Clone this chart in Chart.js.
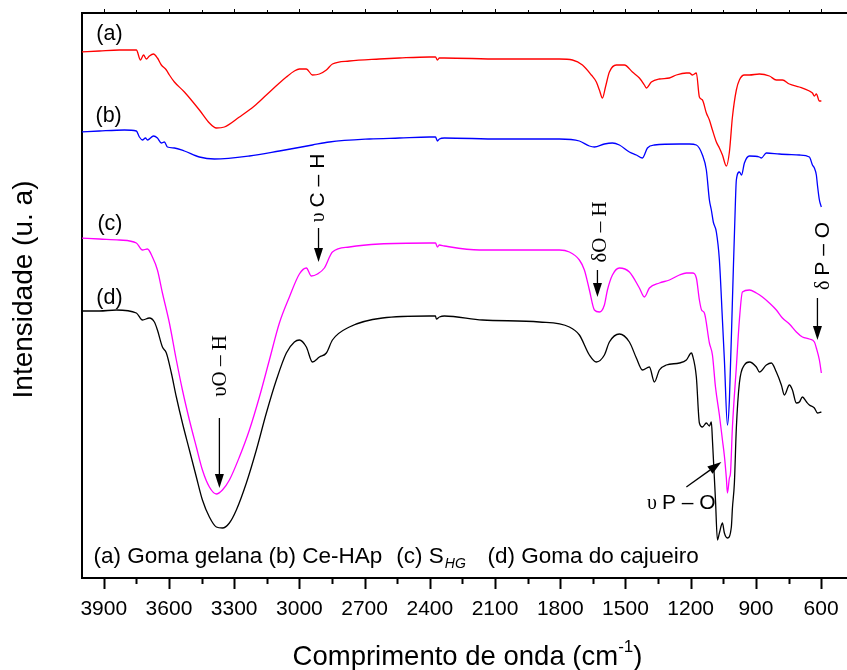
<!DOCTYPE html>
<html><head><meta charset="utf-8">
<script src="https://cdn.jsdelivr.net/npm/chart.js@4/dist/chart.umd.min.js"></script>
<style>html,body{margin:0;padding:0;background:#fff;}#wrap{width:847px;height:670px;}</style>
</head><body><div id="wrap"><canvas id="c" width="847" height="670"></canvas></div>
<script>
// ---- DATA: [wavenumber (cm-1), intensity (a.u.)] ----
const spectrumA = [[4003,526],[3920,527],[3828,528],[3750,528],[3731,518],[3717,523],[3704,519],[3690,522],[3671,524],[3653,520],[3635,513],[3612,508],[3598,503],[3575,496],[3529,486],[3460,468],[3414,455],[3382,450],[3345,451],[3276,461],[3207,472],[3152,483],[3092,495],[3060,501],[3023,507],[3000,509],[2968,509],[2940,503],[2908,504],[2876,508],[2848,514],[2770,517],[2632,519],[2540,520],[2402,521],[2374,521],[2365,518],[2356,520],[2333,520],[2080,519],[1804,519],[1744,518],[1698,513],[1657,503],[1634,496],[1620,488],[1606,480],[1592,491],[1574,506],[1542,513],[1505,513],[1468,506],[1436,500],[1413,493],[1404,490],[1381,496],[1344,499],[1298,500],[1266,503],[1220,505],[1206,505],[1192,503],[1174,505],[1160,481],[1146,478],[1128,465],[1114,458],[1100,448],[1082,436],[1068,430],[1054,423],[1036,412],[1022,426],[1008,461],[990,488],[976,498],[953,503],[930,503],[884,504],[838,502],[806,498],[778,498],[746,494],[700,491],[654,487],[640,485],[631,482],[622,484],[608,477],[599,477]];
const spectrumB = [[4003,446],[3920,447],[3805,448],[3750,447],[3736,441],[3722,438],[3708,440],[3699,438],[3671,442],[3653,440],[3635,435],[3621,436],[3607,431],[3575,430],[3529,427],[3460,421],[3391,419],[3230,422],[3092,427],[2940,433],[2862,436],[2678,439],[2540,440],[2402,441],[2374,441],[2365,437],[2356,439],[2333,440],[2080,439],[1804,439],[1712,437],[1666,432],[1643,431],[1597,434],[1560,435],[1528,433],[1482,426],[1450,423],[1422,420],[1399,430],[1367,433],[1252,434],[1206,434],[1174,433],[1146,423],[1128,408],[1114,378],[1105,368],[1096,356],[1082,346],[1068,318],[1054,258],[1045,218],[1031,153],[1022,178],[1008,278],[994,378],[990,398],[976,406],[966,403],[953,415],[930,422],[884,421],[875,420],[852,425],[792,424],[700,423],[654,421],[640,413],[631,410],[622,403],[617,393],[608,378],[599,371]];
const spectrumC = [[4003,340],[3920,339],[3828,338],[3750,335],[3722,328],[3699,329],[3676,321],[3653,308],[3630,285],[3598,255],[3566,218],[3538,188],[3506,158],[3474,131],[3446,108],[3414,91],[3382,84],[3354,88],[3322,98],[3276,121],[3230,148],[3184,181],[3138,218],[3092,255],[3046,281],[3000,304],[2968,310],[2945,302],[2917,304],[2885,310],[2848,326],[2770,331],[2632,334],[2402,335],[2374,335],[2365,331],[2356,333],[2333,332],[2172,328],[1804,328],[1758,326],[1712,318],[1689,308],[1666,288],[1643,268],[1620,266],[1597,273],[1583,288],[1560,303],[1528,310],[1482,306],[1436,290],[1413,281],[1390,290],[1344,295],[1298,298],[1252,303],[1220,305],[1192,305],[1174,300],[1160,278],[1150,268],[1137,265],[1114,235],[1100,223],[1086,191],[1068,163],[1054,138],[1045,122],[1036,100],[1031,85],[1022,100],[1017,105],[1008,151],[990,211],[976,258],[962,286],[930,288],[898,285],[870,281],[838,275],[806,268],[778,260],[746,254],[714,246],[686,241],[654,239],[631,236],[622,230],[608,218],[599,205]];
const spectrumD = [[4003,267],[3920,267],[3842,268],[3750,265],[3722,258],[3690,260],[3667,256],[3653,248],[3630,231],[3612,225],[3589,205],[3566,181],[3538,155],[3506,128],[3474,101],[3446,78],[3414,61],[3382,51],[3354,50],[3322,55],[3290,68],[3244,95],[3198,128],[3152,165],[3106,198],[3060,225],[3023,236],[3000,238],[2968,231],[2940,216],[2908,221],[2876,225],[2848,238],[2770,251],[2618,260],[2402,262],[2374,262],[2370,259],[2356,261],[2333,262],[2158,258],[1896,256],[1758,251],[1712,243],[1666,223],[1634,216],[1597,223],[1574,236],[1528,244],[1482,236],[1450,220],[1422,208],[1390,211],[1367,196],[1344,208],[1312,213],[1252,215],[1220,218],[1197,225],[1192,223],[1174,201],[1160,155],[1146,151],[1128,155],[1114,152],[1105,156],[1100,138],[1086,78],[1077,38],[1068,45],[1054,55],[1045,45],[1031,40],[1013,51],[1008,70],[999,95],[990,150],[976,195],[953,213],[930,216],[898,211],[884,206],[852,213],[829,215],[806,206],[783,193],[769,183],[746,193],[732,188],[714,175],[700,176],[686,181],[667,176],[654,173],[631,170],[617,165],[599,166]];

const seriesColors = ['#FF0000', '#0000FF', '#FF00FF', '#000000'];
const seriesTags = ['(a)', '(b)', '(c)', '(d)'];
const tagWave = [3934, 3938, 3929, 3934];
const tagInt = [538, 456, 348, 274];

const xMajorTicks = [3900, 3600, 3300, 3000, 2700, 2400, 2100, 1800, 1500, 1200, 900, 600];
const xMinorTicks = [3750, 3450, 3150, 2850, 2550, 2250, 1950, 1650, 1350, 1050, 750];
const xMin = 481, xMax = 4000, yMin = 0, yMax = 565;

const SANS = '"Liberation Sans", Arial, sans-serif';
const SERIF = '"Liberation Serif", "Times New Roman", serif';

// annotations: text baseline position (wave, int), arrow from/to in data units
const bandNotes = [
  {runs: [['υ ', SERIF, 20], ['C – H', SANS, 21]], wave: 2885, int: 390, rot: true, arrow: [2912, 350, 2912, 316]},
  {runs: [['υO – H', SERIF, 21]], wave: 3336, int: 212, rot: true, arrow: [3368, 160, 3368, 90]},
  {runs: [['δO – H', SERIF, 21]], wave: 1588, int: 346, rot: true, arrow: [1629, 308, 1629, 281]},
  {runs: [['δ ', SERIF, 20], ['P – O', SANS, 21]], wave: 562, int: 322, rot: true, arrow: [617, 280, 617, 238]},
  {runs: [['υ ', SERIF, 20], ['P – O', SANS, 21]], wave: 1243, int: 69, rot: false, arrow: [1220, 91, 1059, 116]}
];
const yTitle = 'Intensidade (u. a)';
const xTitleRuns = [['Comprimento de onda (cm', 27.5, 0], ['-1', 17, -13], [')', 27.5, 0]];

function drawRuns(ctx, runs, x, y, rot) {
  ctx.save();
  ctx.translate(x, y);
  if (rot) ctx.rotate(-Math.PI / 2);
  let total = 0;
  const ms = runs.map(r => { ctx.font = r[2] + 'px ' + r[1]; const w = ctx.measureText(r[0]).width; total += w; return w; });
  let cx = -total / 2;
  ctx.textBaseline = 'alphabetic';
  ctx.textAlign = 'left';
  runs.forEach((r, i) => { ctx.font = r[2] + 'px ' + r[1]; ctx.fillText(r[0], cx, 0); cx += ms[i]; });
  ctx.restore();
}

function drawArrow(ctx, x1, y1, x2, y2) {
  const ang = Math.atan2(y2 - y1, x2 - x1);
  const hl = 14, hw = 4.5;
  const bx = x2 - hl * Math.cos(ang), by = y2 - hl * Math.sin(ang);
  ctx.beginPath(); ctx.moveTo(x1, y1); ctx.lineTo(bx, by); ctx.lineWidth = 1.3; ctx.stroke();
  ctx.beginPath();
  ctx.moveTo(x2, y2);
  ctx.lineTo(bx + hw * Math.sin(ang), by - hw * Math.cos(ang));
  ctx.lineTo(bx - hw * Math.sin(ang), by + hw * Math.cos(ang));
  ctx.closePath(); ctx.fill();
}

const decor = {
  id: 'decor',
  afterDraw(chart) {
    const {ctx, chartArea: a, scales: {x, y}} = chart;
    ctx.save();
    ctx.strokeStyle = '#000'; ctx.fillStyle = '#000';
    ctx.lineWidth = 2;
    ctx.beginPath(); ctx.moveTo(a.left - 1, a.top); ctx.lineTo(a.right, a.top); ctx.stroke();
    xMajorTicks.concat(xMinorTicks).forEach(v => {
      const maj = xMajorTicks.includes(v);
      const px = Math.round(x.getPixelForValue(v)) + 0.5;
      ctx.lineWidth = 2;
      ctx.beginPath(); ctx.moveTo(px, a.bottom); ctx.lineTo(px, a.bottom + (maj ? 11 : 6)); ctx.stroke();
      ctx.lineWidth = 1;
      ctx.beginPath(); ctx.moveTo(px, a.top); ctx.lineTo(px, a.top - (maj ? 4 : 3)); ctx.stroke();
    });
    seriesTags.forEach((t, i) => {
      ctx.font = '21.5px ' + SANS; ctx.textAlign = 'left'; ctx.textBaseline = 'alphabetic';
      ctx.fillText(t, x.getPixelForValue(tagWave[i]), y.getPixelForValue(tagInt[i]));
    });
    bandNotes.forEach(n => {
      drawRuns(ctx, n.runs, x.getPixelForValue(n.wave), y.getPixelForValue(n.int), n.rot);
      const ar = n.arrow;
      drawArrow(ctx, x.getPixelForValue(ar[0]), y.getPixelForValue(ar[1]), x.getPixelForValue(ar[2]), y.getPixelForValue(ar[3]));
    });
    const by = y.getPixelForValue(15);
    ctx.textAlign = 'left'; ctx.textBaseline = 'alphabetic';
    ctx.font = '22.5px ' + SANS;
    ctx.fillText('(a) Goma gelana (b) Ce-HAp', x.getPixelForValue(3947), by);
    const cx = x.getPixelForValue(2554);
    ctx.fillText('(c) S', cx, by);
    const sw = ctx.measureText('(c) S').width;
    ctx.font = 'italic 14px ' + SANS;
    ctx.fillText('HG', cx + sw + 1, by + 5);
    ctx.font = '22.5px ' + SANS;
    ctx.fillText('(d) Goma do cajueiro', x.getPixelForValue(2135), by);
    // axis titles
    drawRuns(ctx, [[yTitle, SANS, 28]], 32, (a.top + a.bottom) / 2 - 6, true);
    let tot = 0;
    const ws = xTitleRuns.map(r => { ctx.font = r[1] + 'px ' + SANS; const w = ctx.measureText(r[0]).width; tot += w; return w; });
    let tx = (a.left + a.right) / 2 + 3 - tot / 2;
    xTitleRuns.forEach((r, i) => { ctx.font = r[1] + 'px ' + SANS; ctx.fillText(r[0], tx, 665 + r[2]); tx += ws[i]; });
    ctx.restore();
  }
};

const toPts = arr => arr.map(p => ({x: p[0], y: p[1]}));
const sets = [spectrumA, spectrumB, spectrumC, spectrumD].map((s, i) => ({
  label: seriesTags[i], data: toPts(s), borderColor: seriesColors[i], borderWidth: 1.3,
  pointRadius: 0, cubicInterpolationMode: 'monotone', fill: false
}));

new Chart(document.getElementById('c'), {
  type: 'line',
  data: {datasets: sets},
  options: {
    responsive: false, animation: false, devicePixelRatio: 1,
    layout: {padding: {top: 13, right: 0, left: 0, bottom: 0}},
    plugins: {legend: {display: false}, tooltip: {enabled: false}},
    scales: {
      x: {
        type: 'linear', reverse: true, min: xMin, max: xMax,
        afterBuildTicks: s => { s.ticks = xMajorTicks.map(v => ({value: v})); },
        afterFit: s => { s.height = 92; s.paddingLeft = 0; s.paddingRight = 0; },
        grid: {display: false, drawTicks: false},
        border: {display: true, color: '#000', width: 2},
        ticks: {color: '#000', font: {family: SANS, size: 21}, padding: 19, maxRotation: 0, autoSkip: false,
                callback: v => String(v)}
      },
      y: {
        type: 'linear', min: yMin, max: yMax,
        afterFit: s => { s.width = 82; s.paddingTop = 0; s.paddingBottom = 0; },
        grid: {display: false, drawTicks: false},
        border: {display: true, color: '#000', width: 2},
        ticks: {display: false},
        title: {display: false}
      }
    }
  },
  plugins: [decor]
});
</script></body></html>
